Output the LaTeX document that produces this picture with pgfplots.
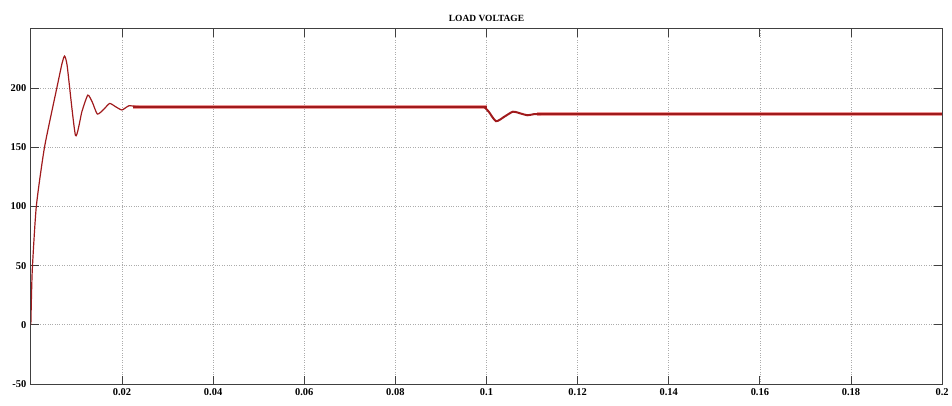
\documentclass[border=0pt]{standalone}
\usepackage{fontspec}
\setmainfont{Liberation Serif}
\usepackage{pgfplots}
\pgfplotsset{compat=1.18}
\definecolor{vline}{RGB}{160,26,28}
\definecolor{halo}{RGB}{238,150,150}
\begin{document}
\begin{tikzpicture}
\begin{axis}[
  name=ax,
  scale only axis,
  width=916pt, height=357pt,
  xmin=0, xmax=0.2, ymin=-50, ymax=250,
  xtick={0.02,0.04,0.06,0.08,0.1,0.12,0.14,0.16,0.18,0.2},
  xticklabels={0.02,0.04,0.06,0.08,0.1,0.12,0.14,0.16,0.18,0.2},
  ytick={-50,0,50,100,150,200},
  yticklabels={-50,0,50,100,150,200},
  grid=major,
  major grid style={dotted, gray!65, line width=0.7pt},
  tick align=inside, tick pos=both,
  major tick length=8pt,
  axis line style={black!75, line width=0.9pt},
  every tick/.style={black!75, line width=0.9pt},
  tick label style={font=\bfseries\fontsize{10.5}{12}\selectfont},
  title={\bfseries\fontsize{9.5}{11}\selectfont LOAD VOLTAGE},
  title style={yshift=-2pt},
  xticklabel style={yshift=-1pt},
  yticklabel style={xshift=-1pt},
]
\addplot[halo, line width=4.2pt, forget plot] coordinates {
(0.0225,184)(0.1,184)};
\addplot[halo, line width=4.2pt, forget plot] coordinates {
(0.111,178)(0.2,178)};
\addplot[vline, line width=1.2pt, smooth, tension=0.35] coordinates {
(0,0)(0.0003,45)(0.0012,100)(0.003,150)(0.0057,200)(0.0068,220)(0.0074,227)(0.0080,218)(0.0098,160)(0.0112,180)(0.0125,194)(0.0135,188)(0.0146,178)(0.016,182)(0.0173,187)(0.0187,184)(0.02,181.5)(0.0215,185)(0.023,184.5)(0.025,184)
};
\addplot[vline, line width=2.6pt] coordinates {
(0.0225,184)(0.1,184)
};
\addplot[vline, line width=2pt, smooth, tension=0.4] coordinates {
(0.0995,184)(0.1005,180)(0.1021,172)(0.104,176)(0.1058,180)(0.1075,178.5)(0.109,177)(0.1105,178)(0.112,178)
};
\addplot[vline, line width=2.6pt] coordinates {
(0.111,178)(0.2,178)
};
\end{axis}
\useasboundingbox (ax.south west) ++(-31pt,-22pt) rectangle ([xshift=5pt,yshift=29pt]ax.north east);
\end{tikzpicture}
\end{document}
